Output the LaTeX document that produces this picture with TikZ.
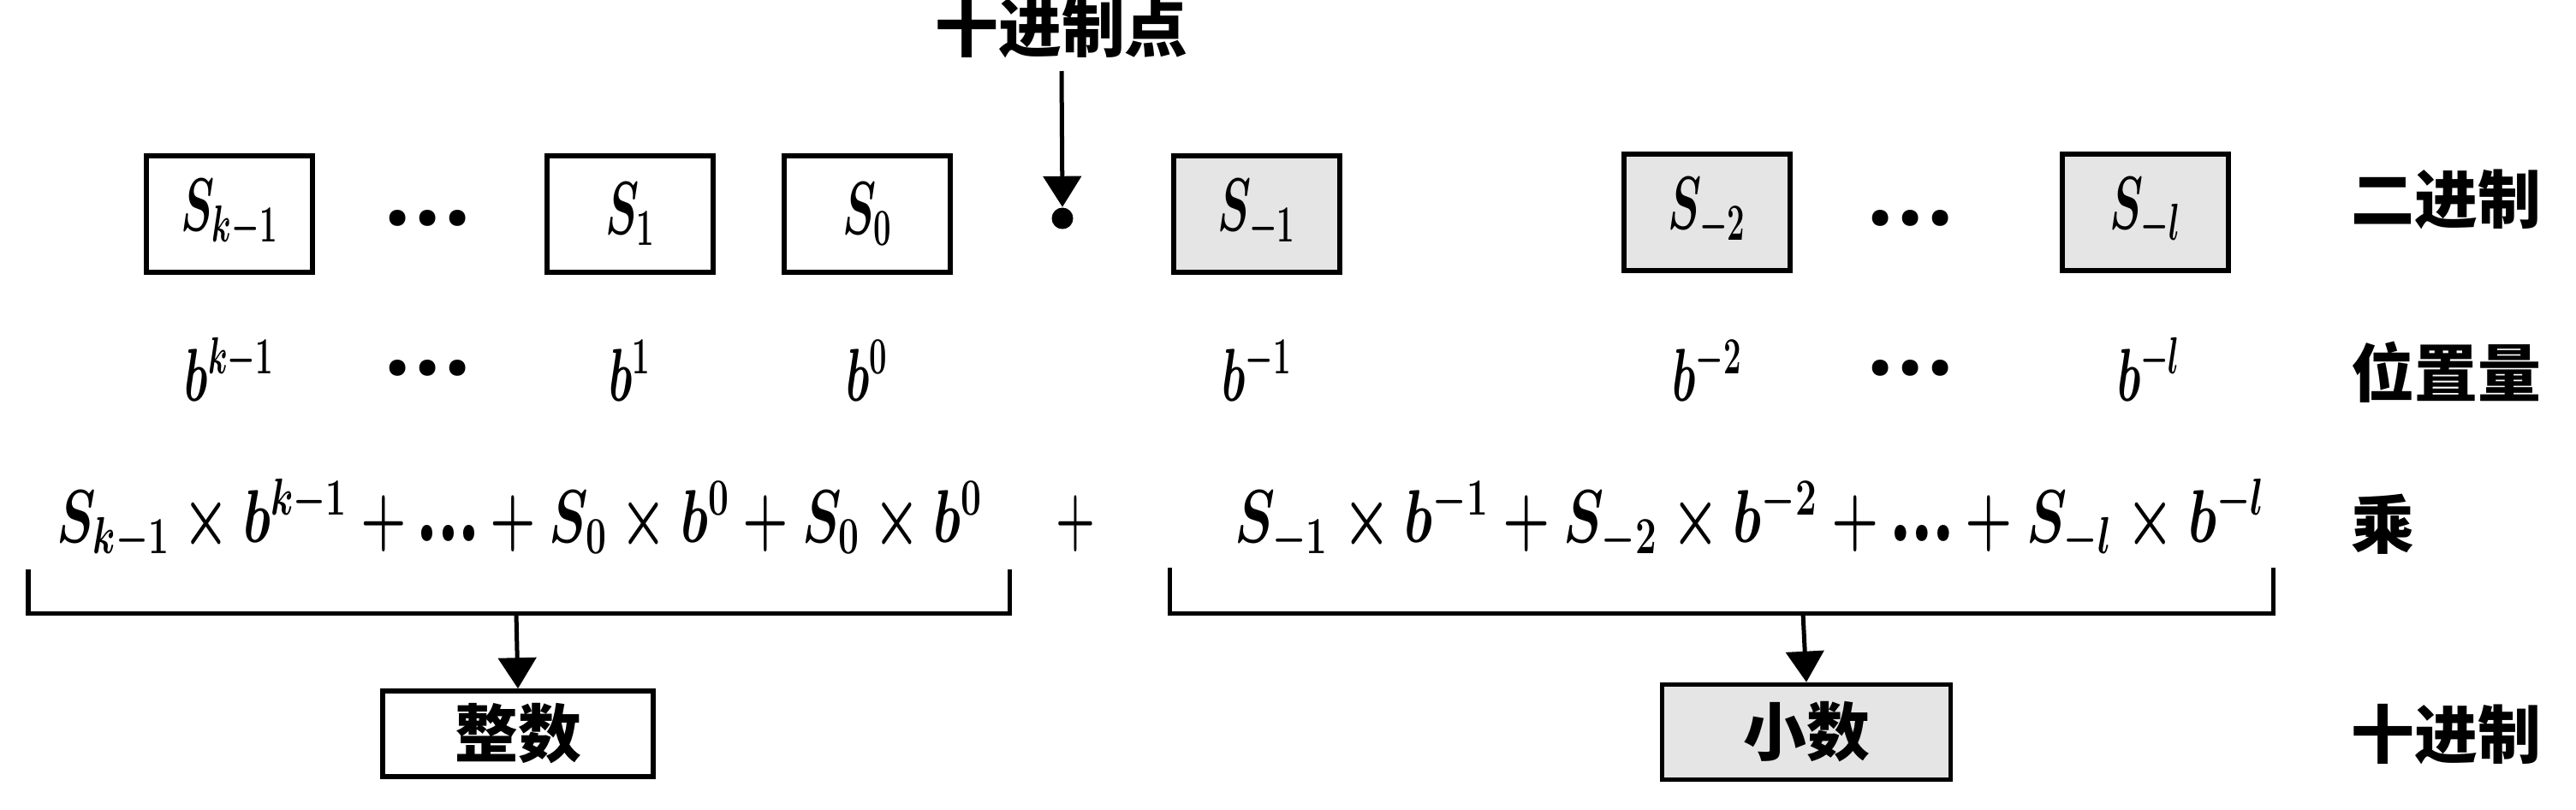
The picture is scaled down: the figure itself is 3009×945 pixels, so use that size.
\documentclass[tikz,border=0pt]{standalone}
\usepackage{amsmath}
\usepackage{graphicx}
\usepackage{fontspec}
\setmainfont{Liberation Serif}
\newfontfamily\cjkfnt{Noto Sans CJK SC}
\usetikzlibrary{arrows.meta}
\newcommand\mfnt{\fontsize{26}{30}\selectfont\boldmath}
\newcommand\cfnt{\fontsize{21}{24}\selectfont\cjkfnt\bfseries}
\newcommand\cx[1]{\scalebox{0.6}[1]{#1}}
\newcommand\dts{\mbox{\fontsize{13}{13}\selectfont${\bullet}\mkern4mu{\bullet}\mkern4mu{\bullet}$}}
\begin{document}
\begin{tikzpicture}[x=0.01cm,y=-0.01cm,
  digit/.style={draw,line width=0.06cm,minimum width=1.94cm,minimum height=1.35cm,inner sep=0pt,font=\mfnt},
  shade/.style={fill=black!10},
  lab/.style={font=\cfnt,anchor=west,inner sep=0pt},
  mtxt/.style={font=\mfnt,inner sep=0pt},
  conn/.style={line width=0.05cm,-{Triangle[length=0.36cm,width=0.44cm]}},
  brk/.style={line width=0.05cm},
  outbox/.style={draw,line width=0.055cm,inner sep=0pt,font=\cfnt}]
\useasboundingbox[fill=white] (0,0) rectangle (3009,945);

% title and decimal point
\node[font=\cfnt,inner sep=0pt] (title) at (1240,33) {十进制点};
\coordinate (arrtop) at (1240,83);
\node[circle,fill,minimum size=0.25cm,inner sep=0pt] (pt) at (1241,255) {};
\draw[conn] (arrtop) -- (pt.north);

% row 1: digits
\node[digit] (sk) at (268,250) {\cx{$S_{k-1}$}};
\node[mtxt] (d1) at (500,255) {\dts};
\node[digit] (s1) at (736,250) {\cx{$S_1$}};
\node[digit] (s0) at (1013,250) {\cx{$S_0$}};
\node[digit,shade] (sm1) at (1468,250) {\cx{$S_{-1}$}};
\node[digit,shade] (sm2) at (1994,248) {\cx{$S_{-2}$}};
\node[mtxt] (d2) at (2232,255) {\dts};
\node[digit,shade] (sml) at (2506,248) {\cx{$S_{-l}$}};
\node[lab] (l1) at (2746,233) {二进制};

% row 2: weights
\node[mtxt,anchor=base] (bk) at (268,468) {\cx{$b^{k-1}$}};
\node[mtxt] (d3) at (500,430) {\dts};
\node[mtxt,anchor=base] (b1) at (736,468) {\cx{$b^{1}$}};
\node[mtxt,anchor=base] (b0) at (1013,468) {\cx{$b^{0}$}};
\node[mtxt,anchor=base] (bm1) at (1468,468) {\cx{$b^{-1}$}};
\node[mtxt,anchor=base] (bm2) at (1994,468) {\cx{$b^{-2}$}};
\node[mtxt] (d4) at (2232,430) {\dts};
\node[mtxt,anchor=base] (bml) at (2510,468) {\cx{$b^{-l}$}};
\node[lab] (l2) at (2746,435) {位置量};

% row 3: products
\node[mtxt,anchor=base] (fl) at (607,633) {\resizebox{10.81cm}{\height}{$S_{k-1}\times b^{k-1}+\dts+S_0\times b^0+S_0\times b^0$}};
\node[mtxt,anchor=base] (plus) at (1256,633) {\cx{$+$}};
\node[mtxt,anchor=base] (fr) at (2044,633) {\resizebox{12.02cm}{\height}{$S_{-1}\times b^{-1}+S_{-2}\times b^{-2}+\dts+S_{-l}\times b^{-l}$}};
\node[lab] (l3) at (2746,612) {乘};

% brackets
\coordinate (la) at (33,665);
\coordinate (lb) at (33,716);
\coordinate (lc) at (1179,716);
\coordinate (ld) at (1179,665);
\coordinate (lm) at (603,716);
\draw[brk] (la) -- (lb) -- (lc) -- (ld);
\coordinate (ra) at (1366,663);
\coordinate (rb) at (1366,716);
\coordinate (rc) at (2655,716);
\coordinate (rd) at (2655,663);
\coordinate (rm) at (2106,716);
\draw[brk] (ra) -- (rb) -- (rc) -- (rd);

% row 4: results
\node[outbox,minimum width=3.16cm,minimum height=1.0cm] (int) at (605,857) {整数};
\node[outbox,shade,minimum width=3.37cm,minimum height=1.11cm] (frac) at (2110,855) {小数};
\node[lab] (l4) at (2746,858) {十进制};
\draw[conn] (lm) -- (int.north);
\draw[conn] (rm) -- (frac.north);
\end{tikzpicture}
\end{document}
